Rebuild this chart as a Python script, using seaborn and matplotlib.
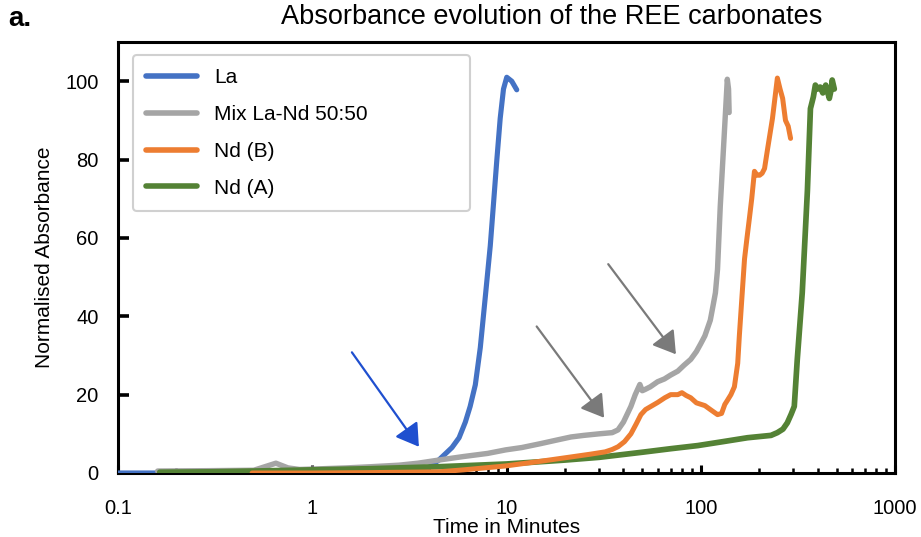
import numpy as np
import pandas as pd
import matplotlib
matplotlib.use("Agg")
import matplotlib.pyplot as plt
import matplotlib.ticker as mticker
import seaborn as sns

# ---------------- data ----------------
la_x = [0.1, 0.5, 1.0, 2.0, 3.0, 4.0, 4.48, 5.24, 5.7, 6.14, 6.5, 6.91, 7.33, 7.78, 8.25, 8.58, 8.92,
        9.28, 9.65, 10.03, 10.64, 11.29]
la_y = [0.0, 0.0, 0.0, 0.2, 0.5, 1.5, 3.3, 6.5, 9.0, 13.0, 17.0, 22.5, 32.0, 45.0, 58.0, 69.0, 80.0,
        90.5, 98.0, 101.0, 100.0, 97.8]

mix_x = [0.16, 0.3, 0.5, 0.65, 0.75, 0.86, 1.0, 1.5, 2.0, 2.8, 3.5, 4.48, 6.0, 8.0, 9.9, 12, 15, 18.5,
         21.5, 25, 30, 35, 37.5, 40, 43.7, 46, 48.6, 50, 51.6, 55, 60, 65, 70, 76.2, 82, 88.8, 95, 100,
         105, 112, 116, 119, 122, 126, 132, 137, 139, 140]
mix_y = [0.5, 0.6, 0.7, 2.5, 1.3, 0.9, 1.0, 1.3, 1.6, 2.0, 2.5, 3.3, 4.2, 5.0, 5.9, 6.5, 7.5, 8.5,
         9.2, 9.6, 10.0, 10.3, 11.0, 13.0, 17.0, 20.0, 22.6, 21.0, 21.3, 22.0, 23.3, 24.0, 25.0, 26.0, 27.5, 29.0, 31.0, 33.0,
         35.0, 39.0, 43.0, 46.0, 52.0, 68.0, 86.0, 100.5, 98.0, 92.0]

ndb_x = [0.49, 1.0, 2.0, 4.48, 6.0, 9.9, 15, 21.5, 27, 32.2, 35, 37.5, 40.5, 43.7, 46.5, 49.2, 52, 55.4,
         60, 65.3, 70, 76.2, 80, 84, 88.8, 95, 105, 112, 122, 128, 133, 137, 143, 149, 155, 158, 163, 168,
         173, 178, 183, 189, 195, 201, 207, 213, 221, 234, 248, 256, 264, 273, 282, 290]
ndb_y = [0.0, 0.0, 0.1, 0.3, 0.8, 1.8, 3.0, 4.1, 4.8, 5.4, 6.0, 6.7, 8.0, 10.0, 12.5, 14.9, 16.2, 17.0,
         18.0, 19.2, 20.0, 20.0, 20.5, 19.8, 19.2, 17.9, 17.2, 16.2, 14.9, 15.2, 17.5, 18.5, 20.0, 22.0, 28.0, 35.0, 45.0, 54.6,
         60.0, 65.0, 70.0, 77.0, 76.0, 76.0, 76.5, 77.7, 82.8, 90.5, 100.8, 98.0, 95.6, 90.0, 88.5, 85.4]

nda_x = [0.164, 0.3, 0.5, 1.0, 2.0, 4.48, 10, 20, 30, 50, 70, 96.6, 130, 174, 200, 230, 248, 265, 279,
         292, 303, 314, 333, 354, 367, 380, 389, 400, 412, 425, 440, 459, 470, 475, 487]
nda_y = [0.2, 0.3, 0.5, 0.8, 1.1, 1.6, 2.3, 3.3, 4.0, 5.3, 6.2, 7.0, 8.0, 9.0, 9.3, 9.6, 10.3, 11.2, 12.8,
         15.0, 17.0, 29.0, 46.0, 72.0, 93.0, 96.0, 99.0, 98.0, 98.5, 97.0, 99.0, 95.6, 98.0, 100.3, 98.0]

series_labels = ["La", "Mix La-Nd 50:50", "Nd (B)", "Nd (A)"]
series_colors = ["#4472C4", "#A5A5A5", "#ED7D31", "#548235"]

xticks = [0.1, 1, 10, 100, 1000]
xtick_labels = ["0.1", "1", "10", "100", "1000"]
yticks = [0, 20, 40, 60, 80, 100]

# ---------------- style ----------------
sns.set_style("ticks")
plt.rcParams["font.family"] = ["Liberation Sans", "DejaVu Sans"]
plt.rcParams["text.color"] = "black"
plt.rcParams["axes.labelcolor"] = "black"
plt.rcParams["xtick.color"] = "black"
plt.rcParams["ytick.color"] = "black"

fig = plt.figure(figsize=(9.21, 5.37), dpi=100)
ax = fig.add_axes([118 / 921, 64 / 537, 777 / 921, 431 / 537])

frames = {
    "La": (la_x, la_y),
    "Mix La-Nd 50:50": (mix_x, mix_y),
    "Nd (A)": (nda_x, nda_y),
    "Nd (B)": (ndb_x, ndb_y),
}
widths = {"La": 3.7, "Mix La-Nd 50:50": 3.9, "Nd (A)": 4.1, "Nd (B)": 3.6}
color_map = dict(zip(series_labels, series_colors))
for name in ["La", "Mix La-Nd 50:50", "Nd (A)", "Nd (B)"]:
    xs, ys = frames[name]
    df = pd.DataFrame({"Time": xs, "Abs": ys})
    sns.lineplot(data=df, x="Time", y="Abs", ax=ax, color=color_map[name], linewidth=widths[name],
                 estimator=None, sort=False, label=name, zorder=3,
                 solid_capstyle="round", solid_joinstyle="round")

ax.set_xscale("log")
ax.set_xlim(0.1, 1000)
ax.set_ylim(0, 110)
ax.set_xticks(xticks, labels=xtick_labels)
ax.xaxis.set_minor_locator(mticker.LogLocator(base=10, subs=np.arange(2, 10)))
ax.xaxis.set_minor_formatter(mticker.NullFormatter())
ax.set_yticks(yticks)

for s in ax.spines.values():
    s.set_visible(True)
    s.set_linewidth(2.2)
    s.set_color("black")

ax.tick_params(axis="y", which="major", direction="in", length=8, width=2.6, labelsize=14.5, pad=14,
               labelcolor="black")
ax.tick_params(axis="x", which="major", direction="in", length=5.5, width=2.2, labelsize=14.5, pad=19,
               labelcolor="black")
ax.tick_params(axis="x", which="minor", direction="in", length=3.5, width=1.8)
ax.tick_params(axis="y", which="minor", left=False)

ax.set_xlabel("Time in Minutes", fontsize=15, labelpad=0, color="black")
ax.set_ylabel("Normalised Absorbance", fontsize=15, labelpad=8, color="black")

# legend
handles, labels = ax.get_legend_handles_labels()
hmap = dict(zip(labels, handles))
leg = ax.legend([hmap[l] for l in series_labels], series_labels,
                loc="upper left", bbox_to_anchor=(0.019, 0.97, 0.434, 0.0), mode="expand",
                fontsize=15, frameon=True, fancybox=True, framealpha=1,
                edgecolor="#d0d0d0", handlelength=2.45, handletextpad=0.8,
                labelspacing=0.85, borderpad=0.65, borderaxespad=0)
leg.get_frame().set_linewidth(1.5)
for lh in leg.get_lines():
    lh.set_linewidth(4)
for t in leg.get_texts():
    t.set_color("black")

# arrows
arrow_style = "-|>,head_length=0.45,head_width=0.28"
ax.annotate("", xy=(3.54, 6.7), xytext=(1.6, 30.8),
            arrowprops=dict(arrowstyle=arrow_style, color="#1f4fcf", lw=1.6, mutation_scale=30,
                            shrinkA=0, shrinkB=0))
ax.annotate("", xy=(31.8, 14.1), xytext=(14.3, 37.4),
            arrowprops=dict(arrowstyle=arrow_style, color="#7a7a7a", lw=1.6, mutation_scale=30,
                            shrinkA=0, shrinkB=0))
ax.annotate("", xy=(74.5, 30.3), xytext=(33.4, 53.3),
            arrowprops=dict(arrowstyle=arrow_style, color="#7a7a7a", lw=1.6, mutation_scale=30,
                            shrinkA=0, shrinkB=0))

fig.text(552 / 921, 1 - 17 / 537, "Absorbance evolution of the REE carbonates",
         ha="center", va="center", fontsize=19.5, color="black")
fig.text(8 / 921, 1 - 19 / 537, "a.", ha="left", va="center", fontsize=20, fontweight="bold",
         color="black")

fig.savefig("out.png", dpi=100)
